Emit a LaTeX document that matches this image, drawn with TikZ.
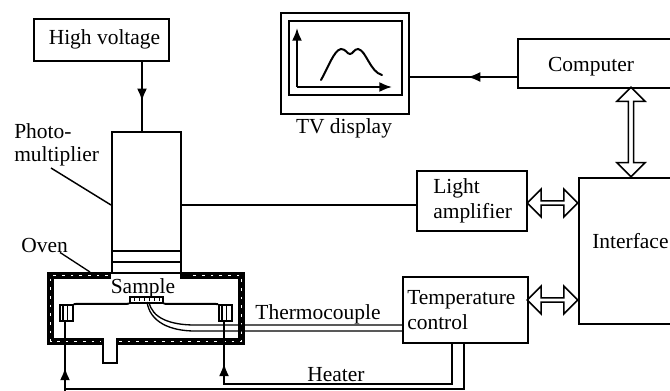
\documentclass[tikz,border=0pt]{standalone}
\usepackage{fontspec}
\setmainfont{Liberation Serif}
\usetikzlibrary{arrows.meta,decorations.markings,shapes.arrows}
\tikzset{
  every picture/.style={>={Latex[length=9.5pt,width=7.5pt]}, font=\fontsize{16.1}{17.5}\selectfont},
  wire/.style={line width=1.5pt},
  box/.style={draw, line width=1.3pt, inner sep=0pt, anchor=north west},
  lab/.style={inner sep=0pt, align=left},
  flow/.style={wire, postaction={decorate},
    decoration={markings, mark=at position #1 with {\arrow{>}}}},
  dblh/.style={draw, line width=1.2pt, double arrow, inner sep=0pt, minimum width=21pt,
    double arrow head extend=3.4pt, minimum height=38pt},
  dblv/.style={dblh, rotate=90, minimum height=67pt, double arrow head extend=2.6pt},
}
\newcommand{\sizedbox}[6]{\node[box, minimum width=#4*0.75pt, minimum height=#5*0.75pt] (#1) at (#2,#3) {#6};}

\begin{document}
\begin{tikzpicture}[x=0.75pt,y=-0.75pt]
  \clip (0,0) rectangle (670,390);
  % blocks
  \sizedbox{hv}{33}{18}{135}{42}{}
  \sizedbox{pmt}{111}{131}{69}{141}{}
  \sizedbox{tvo}{280}{12}{128}{101}{}
  \sizedbox{tvi}{288}{20}{113}{74}{}
  \sizedbox{comp}{517}{38}{170}{49}{}
  \sizedbox{amp}{416}{170}{110}{60}{}
  \sizedbox{iface}{578}{177}{110}{146}{}
  \sizedbox{temp}{402}{276}{125}{66}{}
  % texts
  \node[lab] (hvtxt) at (104.5,39) {High voltage};
  \node[lab] (comptxt) at (591,67) {Computer};
  \node[lab,anchor=west] (amptxt) at (433,201) {Light\\[1pt]amplifier};
  \node[lab,anchor=west] (ifacetxt) at (592,241) {Interface};
  \node[lab,anchor=west] (temptxt) at (407,310) {Temperature\\[1pt]control};
  \node[lab] (tvtxt) at (344,128) {TV display};
  \node[lab,anchor=west] (pmttxt) at (14,145) {Photo-\\multiplier};
  \node[lab,anchor=west] (oventxt) at (21,245) {Oven};
  \node[lab] (samptxt) at (143,288) {Sample};
  \node[lab] (tctxt) at (318,314) {Thermocouple};
  \node[lab] (heattxt) at (336,375) {Heater};
  % photomultiplier window
  \foreach \y in {251,262} {
    \draw[wire] (111,\y) -- (180,\y);
  }
  % oven wall
  \draw[line width=5.4pt, miter limit=10] (111,275.5) -- (50.5,275.5) -- (50.5,341.5) -- (103,341.5);
  \draw[line width=5.4pt] (117,341.5) -- (241.5,341.5) -- (241.5,275.5) -- (180,275.5);
  \draw[white, line width=1.2pt, dash pattern=on 2pt off 4.5pt] (108,275.5) -- (50.5,275.5) -- (50.5,341.5) -- (101,341.5);
  \draw[white, line width=1.2pt, dash pattern=on 2pt off 4.5pt] (119,341.5) -- (241.5,341.5) -- (241.5,275.5) -- (190,275.5);
  \draw[wire] (103,338) -- (103,363) -- (117,363) -- (117,338);
  % sample holder and heaters
  \sizedbox{sample}{129}{296}{33}{6}{}
  \foreach \x in {134,139,...,159} {
    \draw[line width=0.6pt] (\x,297) -- (\x,301);
  }
  \sizedbox{heatl}{59}{304}{13}{16}{}
  \sizedbox{heatr}{218}{304}{13}{16}{}
  \foreach \x in {63,67.5} {
    \draw[line width=0.8pt] (\x,304) -- (\x,320);
    \draw[line width=0.8pt] (\x+159,304) -- (\x+159,320);
  }
  \draw[wire] (heatl.north east) -- (sample.south west);
  \draw[wire] (sample.south east) -- (heatr.north west);
  % connectors
  \coordinate (hvin) at (142,131);
  \draw[flow=0.57] (hv.south -| hvin) -- (hvin);
  \draw[wire] (180,205) -- (amp.west |- 0,205);
  \draw[flow=0.46] (comp.west |- 0,77) -- (tvo.east |- 0,77);
  \draw[line width=1pt] (149,302) .. controls (152,318) and (170,325) .. (195,325) -- (temp.west |- 0,325);
  \draw[line width=1pt] (147,302) .. controls (150,322) and (170,331) .. (195,331) -- (temp.west |- 0,331);
  \draw[flow=0.87] (452,342) -- (452,384) -- (224,384) -- (224,320);
  \draw[wire] (464,342) -- (464,389) -- (65,389);
  \draw[flow=0.34] (65,392) -- (65,320);
  % leaders
  \draw[line width=1pt] (oventxt.south east) ++(-8,0) -- (90,272);
  \draw[line width=1.1pt] (51,168) -- (111,205);
  % double arrows
  \node[dblv] (dcomp) at (631,132) {};
  \node[dblh] (damp) at (552.5,203) {};
  \node[dblh] (dtemp) at (552.5,300) {};
  % trace on the screen
  \draw[->,wire] (297,87) -- (297,28);
  \draw[->,wire] (297,87) -- (392,87);
  \draw[wire, line cap=round] (321,80) .. controls (328,68) and (334,50) .. (341,49)
    .. controls (346,49) and (347,54) .. (350,54) .. controls (353,54) and (354,49) .. (358,49)
    .. controls (366,50) and (370,72) .. (382,75);
\end{tikzpicture}
\end{document}
